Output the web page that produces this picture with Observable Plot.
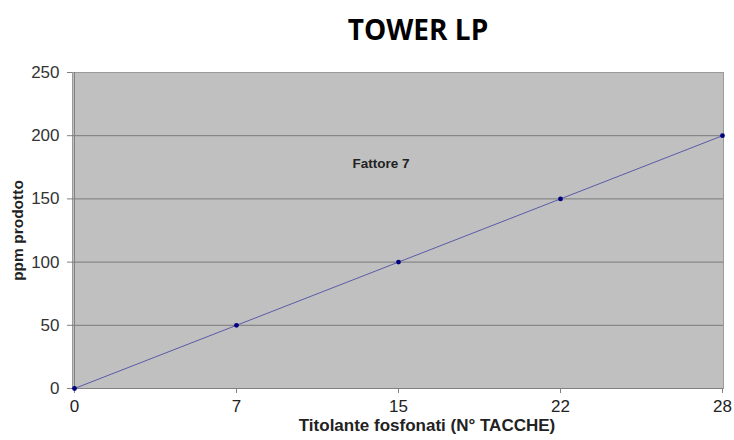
<!DOCTYPE html>
<html><head><meta charset="utf-8">
<script src="https://cdn.jsdelivr.net/npm/d3@7"></script>
<script src="https://cdn.jsdelivr.net/npm/@observablehq/plot@0.6"></script>
<style>
html,body{margin:0;padding:0;background:#fff;}
#chart{position:relative;width:734px;height:440px;}
</style>
</head><body>
<div id="chart"></div>
<script>
const title = "TOWER LP";
const annotation = "Fattore 7";
const xLabel = "Titolante fosfonati (N° TACCHE)";
const yLabel = "ppm prodotto";
const tacche = ["0", "7", "15", "22", "28"];
const ppm = [0, 50, 100, 150, 200];
const yTicks = [0, 50, 100, 150, 200, 250];
const gridValues = [50, 100, 150, 200];

const data = tacche.map((t, i) => ({t, v: ppm[i]}));

const chart = Plot.plot({
  width: 734,
  height: 440,
  marginLeft: 72,
  marginRight: 11,
  marginTop: 72,
  marginBottom: 52,
  style: {fontFamily: "Liberation Sans, Arial, sans-serif", background: "#fff", overflow: "visible"},
  x: {type: "point", domain: tacche, padding: 0, axis: null},
  y: {domain: [0, 250], axis: null},
  marks: [
    Plot.frame({fill: "#c0c0c0", stroke: "#9a9a9a"}),
    Plot.ruleY(gridValues, {stroke: "#7a7a7a", strokeWidth: 1}),
    Plot.axisY(yTicks, {tickSize: 5, tickPadding: 8, fontSize: 17, fill: "#333", stroke: "#808080", label: null}),
    Plot.axisX(tacche, {tickSize: 5, tickPadding: 6, fontSize: 17, fill: "#222", stroke: "#808080", label: null}),
    Plot.ruleX([tacche[0]], {stroke: "#808080"}),
    Plot.ruleY([0], {stroke: "#808080"}),
    Plot.line(data, {x: "t", y: "v", stroke: "#5a5aa8", strokeWidth: 1}),
    Plot.dot(data, {x: "t", y: "v", r: 2.4, fill: "#000080", stroke: null}),
    Plot.text([annotation], {frameAnchor: "top-left", dx: 280, dy: 86, text: d => d, fontSize: 13.5, fontWeight: "bold", fill: "#222", textAnchor: "start"}),
    Plot.text([xLabel], {frameAnchor: "bottom", dx: 29, dy: 42, text: d => d, fontSize: 17, fontWeight: "bold", fill: "#222"}),
    Plot.text([yLabel], {frameAnchor: "left", dx: -54, dy: 0, rotate: -90, textAnchor: "middle", text: d => d, fontSize: 15.5, fontWeight: "bold", fill: "#222"}),
    Plot.text([title], {frameAnchor: "top", dx: 20, dy: -52, text: d => d, fontSize: 28, fontWeight: "bold", fill: "#000", fontFamily: "Open Sans"})
  ]
});
document.getElementById("chart").appendChild(chart);
</script>
</body></html>
